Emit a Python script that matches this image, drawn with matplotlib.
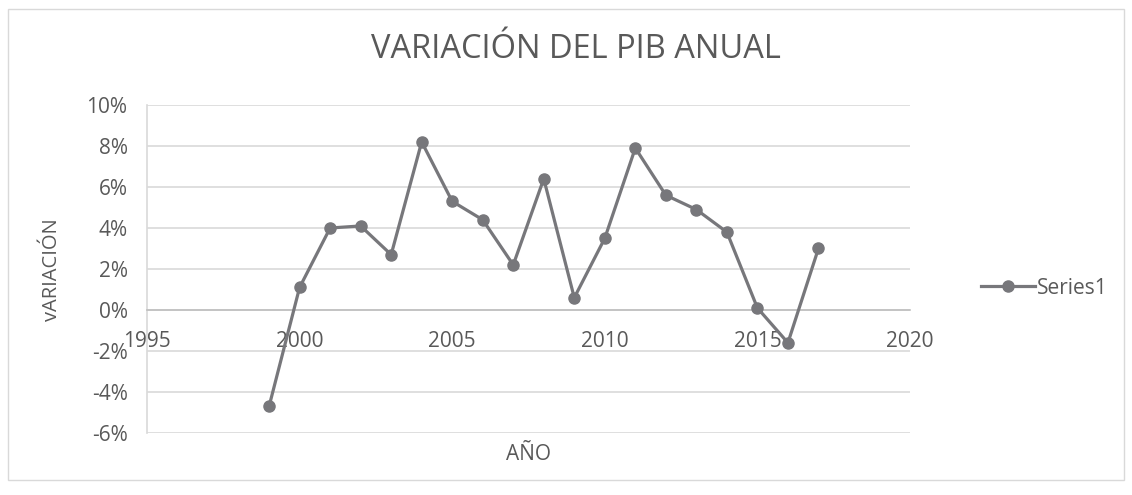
import matplotlib.pyplot as plt
from matplotlib.ticker import PercentFormatter
from matplotlib.patches import Rectangle

# Annual GDP variation
years = [1999, 2000, 2001, 2002, 2003, 2004, 2005, 2006, 2007, 2008,
         2009, 2010, 2011, 2012, 2013, 2014, 2015, 2016, 2017]
variation = [-0.047, 0.011, 0.040, 0.041, 0.027, 0.082, 0.053, 0.044, 0.022, 0.064,
             0.006, 0.035, 0.079, 0.056, 0.049, 0.038, 0.001, -0.016, 0.030]

x_ticks = [1995, 2000, 2005, 2010, 2015, 2020]
y_ticks = [-0.06, -0.04, -0.02, 0.0, 0.02, 0.04, 0.06, 0.08, 0.10]

text_col = '#595959'
line_col = '#77777b'
grid_col = '#d9d9d9'

plt.rcParams['font.family'] = ['Open Sans', 'DejaVu Sans']
plt.rcParams['axes.unicode_minus'] = False

fig = plt.figure(figsize=(11.32, 4.95), dpi=100)
fig.patches.append(Rectangle((8 / 1132, 15 / 495), 1116 / 1132, 471 / 495,
                             transform=fig.transFigure, fill=False,
                             edgecolor='#d9d9d9', linewidth=1))

ax = fig.add_axes([147 / 1132, 1 - 433 / 495, 763 / 1132, 328 / 495])
ax.plot(years, variation, color=line_col, linewidth=2.3, marker='o',
        markersize=8, label='Series1', zorder=3)

ax.set_xlim(1995, 2020)
ax.set_ylim(-0.06, 0.10)
ax.set_xticks(x_ticks)
ax.set_yticks(y_ticks)
ax.yaxis.set_major_formatter(PercentFormatter(1.0, decimals=0))

ax.grid(axis='y', color=grid_col, linewidth=1.2)
ax.set_axisbelow(True)
for s in ['top', 'right']:
    ax.spines[s].set_visible(False)
ax.spines['left'].set_color(grid_col)
ax.spines['left'].set_linewidth(1.2)
ax.spines['bottom'].set_position(('data', 0))
ax.spines['bottom'].set_color('#bfbfbf')
ax.spines['bottom'].set_linewidth(1.2)

ax.tick_params(axis='both', length=0, labelsize=15, labelcolor=text_col)
ax.tick_params(axis='x', pad=15)
ax.tick_params(axis='y', pad=14)

fig.text(0.509, 1 - 50 / 495, 'VARIACIÓN DEL PIB ANUAL', ha='center', va='center',
         fontsize=23.5, color=text_col)
fig.text(52 / 1132, 1 - 270 / 495, 'vARIACIÓN', rotation=90, ha='center', va='center',
         fontsize=14.5, color=text_col)
fig.text(528 / 1132, 1 - 455 / 495, 'AÑO', ha='center', va='center',
         fontsize=15, color=text_col)

fig.legend(loc='center left', bbox_to_anchor=(962 / 1132, 1 - 288 / 495),
           frameon=False, fontsize=15, labelcolor=text_col,
           handlelength=2.6, handletextpad=0.1)

fig.savefig('out.png', dpi=100)
